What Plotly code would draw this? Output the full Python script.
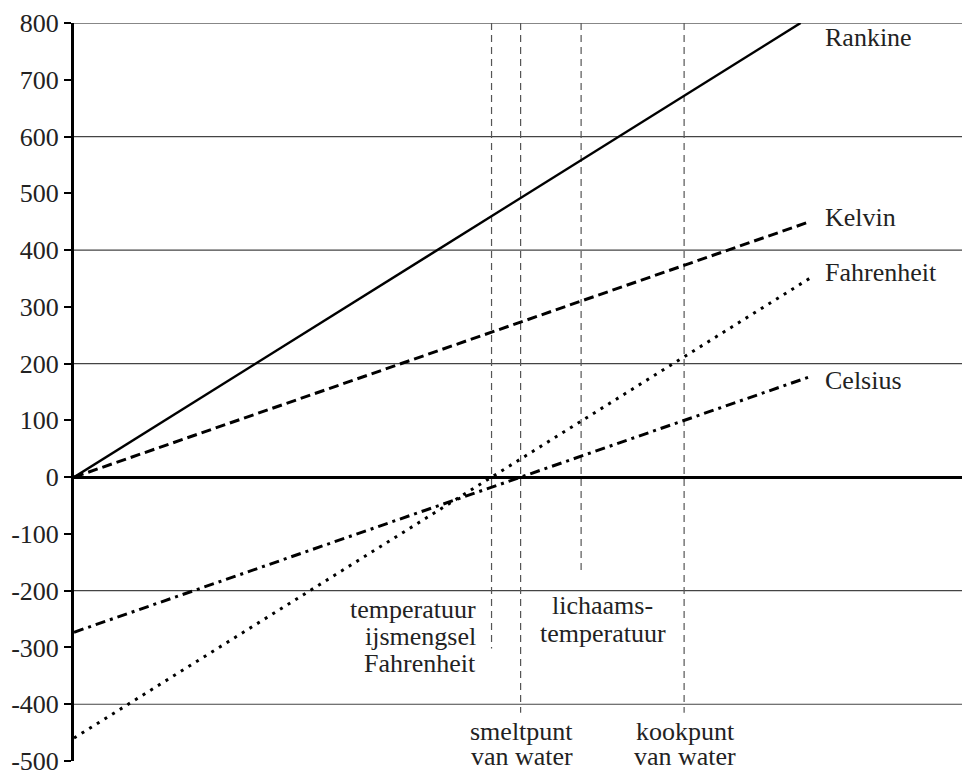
import plotly.graph_objects as go

# Data (x axis: absolute temperature in kelvin, hidden)
rankine_x = [0, 444.4]
rankine_y = [0, 800]
kelvin_x = [0, 450]
kelvin_y = [0, 450]
fahrenheit_x = [0, 450]
fahrenheit_y = [-459.67, 350.33]
celsius_x = [0, 450]
celsius_y = [-273.15, 176.85]

# reference vertical lines: (kelvin position, lower end)
ref_names = ["ijsmengsel", "smeltpunt", "lichaam", "kookpunt"]
ref_x = [255.37, 273.15, 310.15, 373.15]
ref_bottom = [-302, -415, -170, -415]
ref_top = 800

tick_vals = [800, 700, 600, 500, 400, 300, 200, 100, 0, -100, -200, -300, -400, -500]
tick_text = ["800", "700", "600", "500", "400", "300", "200", "100", "0",
             "-100", "-200", "-300", "-400", "-500"]
grid_levels = [800, 600, 400, 200, -200, -400]

FONT = "Liberation Serif, Times New Roman, serif"
TXT = "#222222"
FS = 26

fig = go.Figure()

# horizontal grid lines
for g in grid_levels:
    fig.add_shape(type="line", xref="paper", yref="y", x0=0, x1=1, y0=g, y1=g,
                  line=dict(color="#111111" if g == 800 else "#444444", width=1.2),
                  layer="below")

# vertical reference lines
for x, b in zip(ref_x, ref_bottom):
    fig.add_trace(go.Scatter(x=[x, x], y=[ref_top, b], mode="lines",
                             line=dict(color="#555555", width=1.2, dash="7px,5px"),
                             hoverinfo="skip", showlegend=False))

fig.add_trace(go.Scatter(x=rankine_x, y=rankine_y, mode="lines", name="Rankine",
                         line=dict(color="black", width=2.5)))
fig.add_trace(go.Scatter(x=kelvin_x, y=kelvin_y, mode="lines", name="Kelvin",
                         line=dict(color="black", width=3, dash="10px,5px")))
fig.add_trace(go.Scatter(x=fahrenheit_x, y=fahrenheit_y, mode="lines", name="Fahrenheit",
                         line=dict(color="black", width=3, dash="3px,6px")))
fig.add_trace(go.Scatter(x=celsius_x, y=celsius_y, mode="lines", name="Celsius",
                         line=dict(color="black", width=3, dash="10px,5px,3px,5px")))

# labels for the series
series_labels = [("Rankine", 774), ("Kelvin", 458), ("Fahrenheit", 360), ("Celsius", 171)]
for t, yv in series_labels:
    fig.add_annotation(x=458, y=yv, text=t, showarrow=False, xanchor="left",
                       yanchor="middle", font=dict(family=FONT, size=FS, color=TXT))

# labels for reference lines (one annotation per text line; shift in px below anchor)
ref_labels = [
    ("temperatuur", 247, -234, "right", 0),
    ("ijsmengsel", 247, -234, "right", -27),
    ("Fahrenheit", 247, -234, "right", -54),
    ("lichaams-", 323.5, -226, "center", 0),
    ("temperatuur", 323.5, -226, "center", -28),
    ("smeltpunt", 273.9, -452, "center", 2),
    ("van water", 273.9, -452, "center", -23),
    ("kookpunt", 373.8, -452, "center", 2),
    ("van water", 373.8, -452, "center", -23),
]
for t, xv, yv, anc, ys in ref_labels:
    fig.add_annotation(x=xv, y=yv, yshift=ys, text=t, showarrow=False, xanchor=anc,
                       yanchor="middle", font=dict(family=FONT, size=FS, color=TXT))

fig.update_layout(
    width=962, height=763,
    margin=dict(l=66, r=0, t=15, b=10, autoexpand=False),
    paper_bgcolor="white", plot_bgcolor="white",
    showlegend=False,
    xaxis=dict(range=[0, 548], visible=False, showgrid=False, zeroline=False,
               automargin=False),
    yaxis=dict(range=[-500, 800], tickvals=tick_vals, ticktext=tick_text,
               automargin=False,
               showgrid=False, zeroline=True, zerolinecolor="black", zerolinewidth=3,
               showline=True, linecolor="black", linewidth=3,
               ticks="outside", ticklen=7, tickwidth=2, tickcolor="black",
               ticklabeloverflow="allow",
               tickfont=dict(family=FONT, size=FS, color=TXT)),
)

fig.write_html("out.html")
